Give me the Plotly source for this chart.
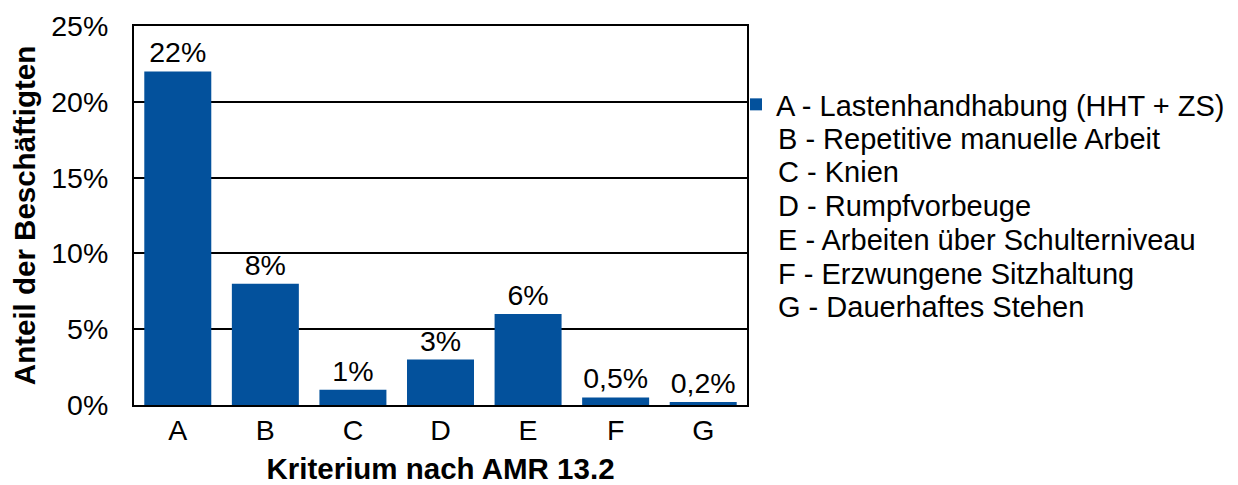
import plotly.graph_objects as go

categories = ["A", "B", "C", "D", "E", "F", "G"]
values = [0.22, 0.08, 0.01, 0.03, 0.06, 0.005, 0.002]
value_labels = ["22%", "8%", "1%", "3%", "6%", "0,5%", "0,2%"]
legend_names = [
    "A - Lastenhandhabung (HHT + ZS)",
    "B - Repetitive manuelle Arbeit",
    "C - Knien",
    "D - Rumpfvorbeuge",
    "E - Arbeiten über Schulterniveau",
    "F - Erzwungene Sitzhaltung",
    "G - Dauerhaftes Stehen",
]
y_ticks = [0, 0.05, 0.10, 0.15, 0.20, 0.25]
y_tick_labels = ["0%", "5%", "10%", "15%", "20%", "25%"]

BLUE = "#03519C"
FONT = "Liberation Sans, Arial, sans-serif"
OFF = 8  # page body margin
W, H = 1238 - OFF, 485 - OFF
# plot area in figure pixels
L, R, T, B = 134 - OFF, 747 - OFF, 26 - OFF, 405 - OFF

fig = go.Figure()
fig.add_trace(go.Bar(
    x=categories, y=values, text=value_labels, textposition="outside",
    textfont=dict(size=28.5, color="black", family=FONT),
    marker=dict(color=BLUE, line=dict(width=0)),
    cliponaxis=False, name=legend_names[0],
    hoverinfo="x+y",
))

# remaining legend entries (text only, as in the reference)
annotations = []
first_y = 105 - OFF
step = 33.7
text_x = 776 - OFF
for i, nm in enumerate(legend_names[1:], start=1):
    py = first_y + i * step
    annotations.append(dict(
        text=nm, xref="paper", yref="paper",
        x=(text_x - L) / (R - L), y=(B - py) / (B - T),
        xanchor="left", yanchor="middle", showarrow=False,
        font=dict(size=29, color="black", family=FONT),
    ))

fig.update_layout(
    width=W, height=H,
    margin=dict(l=L, r=W - R, t=T, b=H - B, autoexpand=False),
    paper_bgcolor="white", plot_bgcolor="white",
    font=dict(family=FONT, size=28.5, color="black"),
    bargap=0.235,
    separators=",.",
    showlegend=True,
    legend=dict(
        x=(736 - OFF) / W, xref="container", y=1 - (79 - OFF) / H, yref="container",
        xanchor="left", yanchor="top",
        font=dict(size=29, family=FONT, color="black"),
        bgcolor="rgba(0,0,0,0)", borderwidth=0,
        itemclick=False, itemdoubleclick=False,
    ),
    annotations=annotations,
    xaxis=dict(
        categoryorder="array", categoryarray=categories,
        showline=True, linecolor="black", linewidth=2, mirror=True,
        ticks="", showgrid=False, ticklabelstandoff=-1, automargin=True,
        tickfont=dict(size=28.5, color="black", family=FONT),
        title=dict(text="<b>Kriterium nach AMR 13.2</b>", standoff=14,
                   font=dict(size=29.5, color="black", family=FONT)),
    ),
    yaxis=dict(
        range=[0, 0.25], tickvals=y_ticks, ticktext=y_tick_labels,
        showline=True, linecolor="black", linewidth=2, mirror=True,
        showgrid=True, gridcolor="black", gridwidth=1.5,
        zeroline=False, ticks="", ticklabelstandoff=18, automargin=True,
        tickfont=dict(size=28.5, color="black", family=FONT),
        title=dict(text="<b>Anteil der Beschäftigten</b>", standoff=14,
                   font=dict(size=29.5, color="black", family=FONT)),
    ),
)

fig.write_html("out.html")
